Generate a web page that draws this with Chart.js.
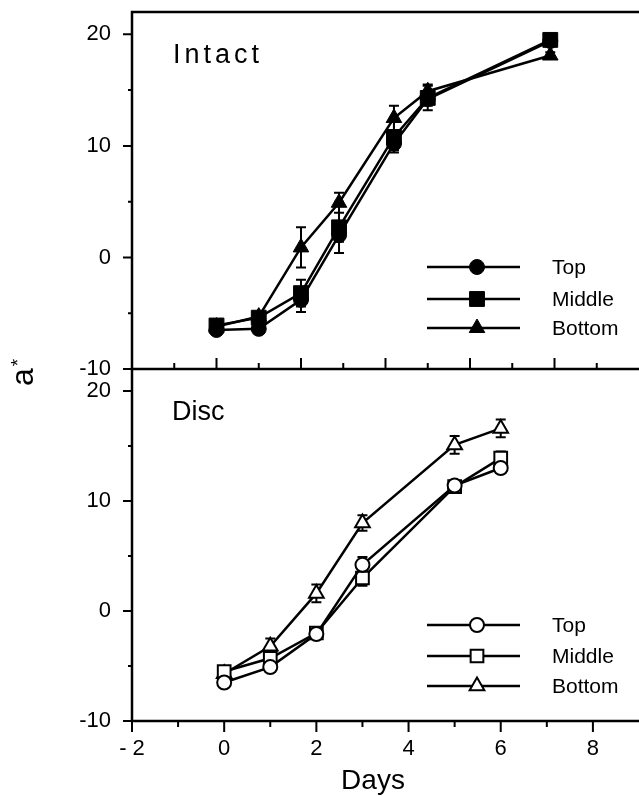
<!DOCTYPE html>
<html><head><meta charset="utf-8">
<script src="https://cdn.jsdelivr.net/npm/chart.js@4/dist/chart.umd.min.js"></script>
<style>
html,body{margin:0;padding:0;background:#fff;}
body{width:639px;height:796px;position:relative;overflow:hidden;}
canvas{position:absolute;left:0;}
#c1{top:-40px;}
#c2{top:320px;}
</style></head><body>
<canvas id="c1" width="639" height="450"></canvas>
<canvas id="c2" width="639" height="476"></canvas>
<script>
// ---------- data ----------
const seriesNames = ['Top', 'Middle', 'Bottom'];
const yTickValues = [-10, -5, 0, 5, 10, 15, 20];

// Intact panel
const intactDays = [0, 1, 2, 2.9, 4.2, 5, 7.9];
const intactTop    = [-6.5, -6.4, -3.8, 2.0, 10.2, 14.2, 19.4];
const intactMiddle = [-6.1, -5.4, -3.2, 2.7, 10.8, 14.3, 19.5];
const intactBottom = [-6.2, -5.3, 0.9, 4.9, 12.5, 14.9, 18.1];
const intactTopErr    = [0.3, 0.3, 1.1, 0.6, 0.6, 0.6, 0.3];
const intactMiddleErr = [0.3, 0.3, 1.2, 2.3, 1.4, 1.1, 0.4];
const intactBottomErr = [0.3, 0.3, 1.8, 0.9, 1.1, 0.6, 0.3];

// Disc panel
const discDays = [0, 1, 2, 3, 5, 6];
const discTop    = [-6.5, -5.1, -2.1, 4.2, 11.4, 13.0];
const discMiddle = [-5.5, -4.3, -2.0, 3.0, 11.3, 13.9];
const discBottom = [-5.7, -3.2, 1.6, 8.0, 15.1, 16.6];
const discTopErr    = [0.3, 0.3, 0.3, 0.7, 0.4, 0.4];
const discMiddleErr = [0.3, 0.4, 0.3, 0.7, 0.4, 0.6];
const discBottomErr = [0.3, 0.7, 0.8, 0.7, 0.8, 0.8];

const FONT = '"Liberation Sans", Arial, Helvetica, sans-serif';

function mkSet(label, days, vals, errs, style, radius, filled) {
  return {
    label: label,
    data: days.map((d, i) => ({ x: d, y: vals[i] })),
    err: errs,
    showLine: true,
    borderColor: '#000',
    borderWidth: 2.5,
    pointStyle: style,
    pointRadius: radius,
    pointHoverRadius: radius,
    pointBackgroundColor: filled ? '#000' : '#fff',
    pointBorderColor: '#000',
    pointBorderWidth: filled ? 1 : 2,
    fill: false,
    tension: 0
  };
}

function drawMarker(ctx, style, r, x, y, filled) {
  ctx.beginPath();
  if (style === 'circle') {
    ctx.arc(x, y, r, 0, Math.PI * 2);
  } else if (style === 'rect') {
    const s = Math.SQRT1_2 * r;
    ctx.rect(x - s, y - s, 2 * s, 2 * s);
  } else {
    let rad = 0;
    ctx.moveTo(x + Math.sin(rad) * r, y - Math.cos(rad) * r);
    rad += 2 * Math.PI / 3;
    ctx.lineTo(x + Math.sin(rad) * r, y - Math.cos(rad) * r);
    rad += 2 * Math.PI / 3;
    ctx.lineTo(x + Math.sin(rad) * r, y - Math.cos(rad) * r);
    ctx.closePath();
  }
  ctx.fillStyle = filled ? '#000' : '#fff';
  ctx.fill();
  ctx.lineWidth = filled ? 1 : 2;
  ctx.strokeStyle = '#000';
  ctx.stroke();
}

const decoPlugin = {
  id: 'deco',
  beforeDatasetsDraw(chart, args, o) {
    const xs = chart.scales.x, ys = chart.scales.y, ctx = chart.ctx;
    ctx.save();
    ctx.strokeStyle = '#000';
    ctx.lineWidth = 2;
    chart.data.datasets.forEach(ds => {
      ds.data.forEach((p, i) => {
        const e = ds.err[i];
        if (!e) return;
        const x = xs.getPixelForValue(p.x);
        const y1 = ys.getPixelForValue(p.y + e);
        const y2 = ys.getPixelForValue(p.y - e);
        ctx.beginPath();
        ctx.moveTo(x, y1); ctx.lineTo(x, y2);
        ctx.moveTo(x - 5, y1); ctx.lineTo(x + 5, y1);
        ctx.moveTo(x - 5, y2); ctx.lineTo(x + 5, y2);
        ctx.stroke();
      });
    });
    ctx.restore();
  },
  afterDraw(chart, args, o) {
    const ctx = chart.ctx, a = chart.chartArea;
    const xs = chart.scales.x, ys = chart.scales.y;
    ctx.save();
    ctx.strokeStyle = '#000';
    // frame
    ctx.lineWidth = 2.5;
    ctx.lineCap = 'square';
    ctx.beginPath();
    if (o.frameTop) { ctx.moveTo(a.left, a.top); ctx.lineTo(a.right + 2, a.top); }
    ctx.moveTo(a.left, a.top); ctx.lineTo(a.left, a.bottom); ctx.lineTo(a.right + 2, a.bottom);
    ctx.stroke();
    // ticks
    ctx.lineWidth = 2;
    ctx.lineCap = 'butt';
    ctx.beginPath();
    yTickValues.forEach(v => {
      const y = ys.getPixelForValue(v);
      const L = v % 10 === 0 ? 9 : 4;
      ctx.moveTo(a.left - L, y); ctx.lineTo(a.left, y);
    });
    const dir = o.xTickIn ? -1 : 1;
    for (let v = Math.ceil(xs.min); v < xs.max; v++) {
      const x = xs.getPixelForValue(v);
      const L = v % 2 === 0 ? 11 : 6;
      ctx.moveTo(x, a.bottom); ctx.lineTo(x, a.bottom + dir * L);
    }
    ctx.stroke();
    // panel label
    ctx.fillStyle = '#000';
    ctx.textBaseline = 'alphabetic';
    ctx.textAlign = 'left';
    ctx.font = o.panelFont;
    if (o.letterSpacing) {
      let x = o.panelX;
      for (const ch of o.panelLabel) { ctx.fillText(ch, x, o.panelY); x += ctx.measureText(ch).width + o.letterSpacing; }
    } else {
      ctx.fillText(o.panelLabel, o.panelX, o.panelY);
    }
    // legend
    chart.data.datasets.forEach((ds, i) => {
      const y = o.legendRows[i];
      ctx.strokeStyle = '#000';
      ctx.lineWidth = 2.5;
      ctx.beginPath();
      ctx.moveTo(o.legendX1, y); ctx.lineTo(o.legendX2, y);
      ctx.stroke();
      drawMarker(ctx, ds.pointStyle, ds.pointRadius, o.legendMarkX, y, o.filled);
      ctx.fillStyle = '#000';
      ctx.font = '21px ' + FONT;
      ctx.textBaseline = 'middle';
      ctx.textAlign = 'left';
      ctx.fillText(ds.label, o.legendTextX, y + 1);
    });
    // axis titles
    if (o.xTitle) {
      ctx.font = '28px ' + FONT;
      ctx.textAlign = 'center';
      ctx.textBaseline = 'alphabetic';
      ctx.fillText(o.xTitle, o.xTitleX, o.xTitleY);
    }
    if (o.yTitle) {
      ctx.translate(o.yTitleX, o.yTitleY);
      ctx.rotate(-Math.PI / 2);
      ctx.textAlign = 'left';
      ctx.textBaseline = 'alphabetic';
      ctx.font = '32px ' + FONT;
      ctx.fillText(o.yTitle, 0, 0);
      const w = ctx.measureText(o.yTitle).width;
      ctx.font = '19px ' + FONT;
      ctx.fillText('*', w + 2, -9);
    }
    ctx.restore();
  }
};

function yScale() {
  return {
    type: 'linear', min: -10, max: 22,
    grid: { display: false }, border: { display: false },
    afterBuildTicks(s) { s.ticks = yTickValues.map(v => ({ value: v })); },
    ticks: {
      color: '#000', font: { family: FONT, size: 22 }, padding: 13, autoSkip: false,
      callback: (v) => (v % 10 === 0 ? String(v) : '')
    },
    afterFit(s) { s.width = 132; }
  };
}

// ---------- Intact chart ----------
new Chart(document.getElementById('c1'), {
  type: 'scatter',
  data: {
    datasets: [
      mkSet(seriesNames[0], intactDays, intactTop, intactTopErr, 'circle', 7.5, true),
      mkSet(seriesNames[1], intactDays, intactMiddle, intactMiddleErr, 'rect', 10.5, true),
      mkSet(seriesNames[2], intactDays, intactBottom, intactBottomErr, 'triangle', 9, true)
    ]
  },
  options: {
    responsive: false, animation: false, events: [],
    layout: { autoPadding: false, padding: { top: 52, bottom: 41, left: 0, right: 0 } },
    plugins: {
      legend: { display: false }, tooltip: { enabled: false },
      deco: {
        frameTop: true, xTickIn: true,
        panelLabel: 'Intact', panelFont: '27px ' + FONT, panelX: 173, panelY: 103, letterSpacing: 4,
        legendRows: [307, 339, 368], legendX1: 427, legendX2: 520, legendMarkX: 477, legendTextX: 552,
        filled: true
      }
    },
    scales: {
      x: {
        type: 'linear', min: -2, max: 10,
        grid: { display: false }, border: { display: false },
        ticks: { display: false },
        afterFit(s) { s.height = 0; s.paddingLeft = 0; s.paddingRight = 0; }
      },
      y: yScale()
    }
  },
  plugins: [decoPlugin]
});

// ---------- Disc chart ----------
new Chart(document.getElementById('c2'), {
  type: 'scatter',
  data: {
    datasets: [
      mkSet(seriesNames[0], discDays, discTop, discTopErr, 'circle', 7, false),
      mkSet(seriesNames[1], discDays, discMiddle, discMiddleErr, 'rect', 9, false),
      mkSet(seriesNames[2], discDays, discBottom, discBottomErr, 'triangle', 8.5, false)
    ]
  },
  options: {
    responsive: false, animation: false, events: [],
    layout: { autoPadding: false, padding: { top: 49, bottom: 15, left: 0, right: 0 } },
    plugins: {
      legend: { display: false }, tooltip: { enabled: false },
      deco: {
        frameTop: false, xTickIn: false,
        panelLabel: 'Disc', panelFont: '27px ' + FONT, panelX: 172, panelY: 100, letterSpacing: 0,
        legendRows: [305, 336, 366], legendX1: 427, legendX2: 520, legendMarkX: 477, legendTextX: 552,
        filled: false,
        xTitle: 'Days', xTitleX: 373, xTitleY: 469,
        yTitle: 'a', yTitleX: 33, yTitleY: 66
      }
    },
    scales: {
      x: {
        type: 'linear', min: -2, max: 9,
        grid: { display: false }, border: { display: false },
        afterBuildTicks(s) { const t = []; for (let v = -2; v <= 9; v++) t.push({ value: v }); s.ticks = t; },
        ticks: {
          color: '#000', font: { family: FONT, size: 22 }, padding: 7, autoSkip: false, maxRotation: 0,
          callback: (v) => (v === -2 ? '- 2' : (v % 2 === 0 && v <= 8 ? String(v) : ''))
        },
        afterFit(s) { s.height = 60; s.paddingLeft = 0; s.paddingRight = 0; }
      },
      y: yScale()
    }
  },
  plugins: [decoPlugin]
});
</script>
</body></html>
